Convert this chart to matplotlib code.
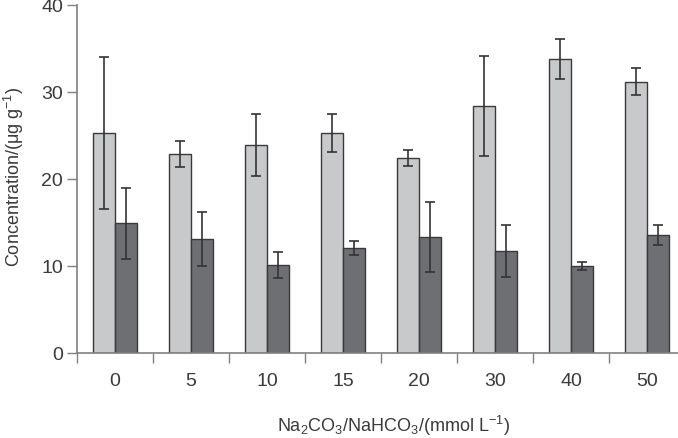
import matplotlib
matplotlib.use('Agg')
import matplotlib.pyplot as plt
import numpy as np

plt.rcParams['font.family'] = ['Liberation Sans', 'DejaVu Sans']
plt.rcParams['mathtext.default'] = 'regular'

categories = ['0', '5', '10', '15', '20', '30', '40', '50']
light = [25.3, 22.9, 23.9, 25.3, 22.4, 28.4, 33.8, 31.2]
lightErr = [8.7, 1.5, 3.6, 2.2, 0.9, 5.7, 2.3, 1.55]
dark = [14.9, 13.1, 10.15, 12.1, 13.3, 11.7, 10.0, 13.6]
darkErr = [4.1, 3.1, 1.5, 0.8, 4.0, 3.0, 0.45, 1.15]

fig = plt.figure(figsize=(6.78, 4.39), dpi=100)
ax = fig.add_axes([77/678, 85/439, 608/678, 348/439])

x = np.arange(len(categories))
w = 0.29
errStyle = dict(ecolor='#333333', elinewidth=1.2, capsize=3.5, capthick=1.2)
ax.bar(x - w/2, light, w, color='#c8c9cb', edgecolor='#3a3a3a', linewidth=1.0,
       yerr=lightErr, error_kw=errStyle, zorder=2)
ax.bar(x + w/2, dark, w, color='#6e6f72', edgecolor='#3a3a3a', linewidth=1.0,
       yerr=darkErr, error_kw=errStyle, zorder=2)

ax.set_xlim(-0.5, len(categories) - 0.5)
ax.set_ylim(0, 40)
ax.set_yticks([0, 10, 20, 30, 40])

# tick marks between groups, labels at group centres
ax.set_xticks(np.arange(len(categories) + 1) - 0.5)
ax.set_xticklabels([])
ax.set_xticks(x, minor=True)
ax.set_xticklabels(categories, minor=True)
ax.tick_params(axis='x', which='major', length=7, width=1, color='#808080')
ax.tick_params(axis='x', which='minor', length=0, pad=14, labelsize=14, labelcolor='#3a3a3a')
ax.tick_params(axis='y', length=7, width=1, color='#808080', labelsize=14, labelcolor='#3a3a3a', pad=3)

for s in ['top', 'right']:
    ax.spines[s].set_visible(False)
for s in ['left', 'bottom']:
    ax.spines[s].set_color('#808080')
    ax.spines[s].set_linewidth(1.2)

ax.set_ylabel('Concentration/(μg g$^{-1}$)', fontsize=13, color='#3a3a3a')
ax.yaxis.set_label_coords(-0.084, 0.51)
ax.set_xlabel('Na$_2$CO$_3$/NaHCO$_3$/(mmol L$^{-1}$)', fontsize=13, color='#3a3a3a')
ax.xaxis.set_label_coords(0.521, -0.172)

fig.savefig('out.png', dpi=100)
